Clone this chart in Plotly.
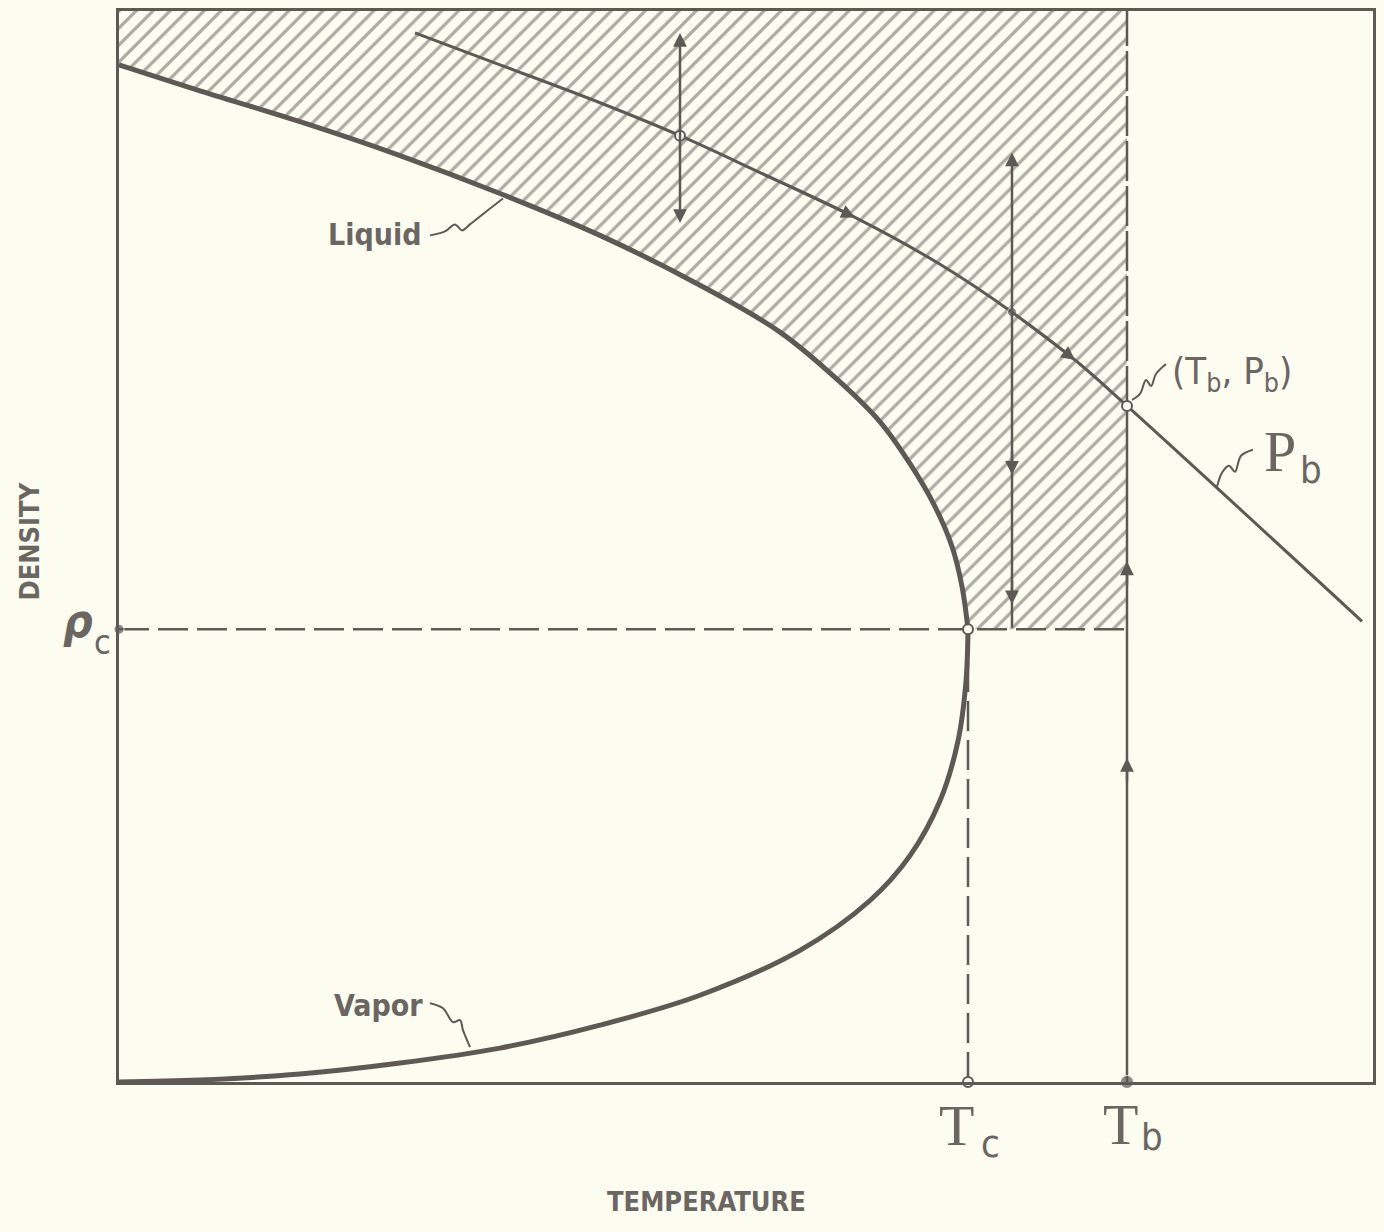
import plotly.graph_objects as go

# coexistence curve (temperature, density) in arbitrary diagram units
liquid_T = [0, 81, 181, 281, 381, 481, 581, 661, 721, 761, 791, 816, 833, 843, 849]
liquid_rho = [1020, 994, 963, 929, 891, 849, 799, 752, 702, 662, 620, 577, 537, 497, 454]
vapor_T = [849, 847, 839, 821, 791, 751, 681, 581, 481, 381, 281, 181, 81, 0]
vapor_rho = [454, 402, 342, 282, 227, 182, 132, 87, 57, 34, 19, 8, 2, 0]

# isobar P_b
isobar_T = [296, 381, 481, 561, 641, 736, 821, 893, 956, 1008, 1243]
isobar_rho = [1052, 1020, 982, 949, 912, 867, 820, 772, 724, 678, 462]

T_c, rho_c = 849, 454
T_b = 1008
T_max, rho_max = 1254, 1074

# vertical double arrows (bottom, top)
arrow1_rho = [860, 1052]
arrow2_rho = [454, 932]
arrow2_down = [609, 479]
Tb_up = [522, 325]

# leader squiggles
lead_liquid = ([311, 326, 336, 343, 351, 366, 384], [849, 853, 860, 854, 860, 872, 886])
lead_vapor = ([311, 324, 334, 341, 344, 351], [79, 74, 60, 62, 52, 35])
lead_tbpb = ([1013, 1021, 1027, 1032, 1037, 1047], [684, 690, 704, 698, 710, 720])
lead_pb = ([1098, 1103, 1110, 1116, 1122, 1134], [597, 611, 618, 612, 628, 634])

INK = "#5e5955"
TXT = "#6b6661"
BG = "#fcfcf1"
SANS = "Liberation Sans Narrow, DejaVu Sans Condensed, sans-serif"
SERIF = "Liberation Serif, DejaVu Serif, serif"

fig = go.Figure()

# hatched region above the liquid branch, left of T_b
hatch_T = liquid_T + [T_b, T_b, 0]
hatch_rho = liquid_rho + [rho_c, rho_max, rho_max]
fig.add_trace(go.Scatter(x=hatch_T, y=hatch_rho, mode="lines", fill="toself",
                         fillcolor="rgba(0,0,0,0)", line=dict(width=0),
                         fillpattern=dict(shape="/", size=12, solidity=0.27,
                                          fgcolor="#5e5955", bgcolor="rgba(0,0,0,0)")))

def line(x, y, width=2.5, dash="solid", shape="linear"):
    fig.add_trace(go.Scatter(x=x, y=y, mode="lines", cliponaxis=False,
                             line=dict(color=INK, width=width, dash=dash, shape=shape)))

# dashed guides
line([0, T_b], [rho_c, rho_c], dash="30px,9px")
line([T_c, T_c], [0, rho_c], dash="30px,9px")
line([T_b, T_b], [isobar_rho[9], rho_max], dash="40px,5px")
line([T_b, T_b], [0, isobar_rho[9]])

# coexistence curve
line(liquid_T, liquid_rho, width=5, shape="spline")
line(vapor_T, vapor_rho, width=5, shape="spline")

# isobar
line(isobar_T, isobar_rho, width=3, shape="spline")

# leaders
for lx, ly in [lead_liquid, lead_vapor, lead_tbpb, lead_pb]:
    line(lx, ly, width=2, shape="spline")

# points
fig.add_trace(go.Scatter(x=[0, T_b, isobar_T[7]], y=[rho_c, 0, isobar_rho[7]], mode="markers",
                         cliponaxis=False, marker=dict(color=INK, size=[10, 13, 9])))
fig.add_trace(go.Scatter(x=[T_c, T_c, T_b, isobar_T[3]], y=[rho_c, 0, isobar_rho[9], isobar_rho[3]],
                         mode="markers", cliponaxis=False,
                         marker=dict(color=BG, size=10, line=dict(color=INK, width=2))))

# arrows
def arrow(x, y, ax, ay, side="end"):
    fig.add_annotation(x=x, y=y, ax=ax, ay=ay, xref="x", yref="y", axref="x", ayref="y",
                       text="", showarrow=True, arrowhead=2, arrowsize=1.1, arrowwidth=2.5,
                       arrowcolor=INK, arrowside=side)

arrow(isobar_T[3], arrow1_rho[1], isobar_T[3], arrow1_rho[0], side="end+start")
arrow(isobar_T[7], arrow2_rho[1], isobar_T[7], arrow2_rho[0])
for r in arrow2_down:
    arrow(isobar_T[7], r, isobar_T[7], r + 25)
for r in Tb_up:
    arrow(T_b, r, T_b, r - 25)
arrow(isobar_T[5], isobar_rho[5], isobar_T[4], isobar_rho[4])
arrow(isobar_T[8], isobar_rho[8], isobar_T[7], isobar_rho[7])

# labels (placed in paper units so they may sit outside the axes)
def label(x, y, text, size, font=SANS, angle=0):
    fig.add_annotation(x=x / T_max, y=y / rho_max, xref="paper", yref="paper", text=text,
                       xanchor="center", yanchor="middle", showarrow=False, textangle=angle,
                       font=dict(family=font, size=size, color=TXT))

label(256, 850, "<b>Liquid</b>", 30)
label(259, 77, "<b>Vapor</b>", 30)
label(587, -120, "<b>TEMPERATURE</b>", 27)
label(-89, 542, "<b>DENSITY</b>", 27, angle=-90)
label(837, -44, "T", 58, font=SERIF)
label(871, -62, "c", 38)
label(1001, -43, "T", 58, font=SERIF)
label(1033, -55, "b", 38)
label(1161, 632, "P", 58, font=SERIF)
label(1192, 614, "b", 38)
label(-41, 462, "<b><i>ρ</i></b>", 46)
label(-17, 441, "c", 34)
label(1113, 710, "(T<sub>b</sub>, P<sub>b</sub>)", 38)

fig.update_xaxes(range=[0, T_max], showgrid=False, zeroline=False, showticklabels=False,
                 showline=True, mirror=True, linecolor=INK, linewidth=3)
fig.update_yaxes(range=[0, rho_max], showgrid=False, zeroline=False, showticklabels=False,
                 showline=True, mirror=True, linecolor=INK, linewidth=3)
fig.update_layout(width=1384, height=1232, showlegend=False,
                  margin=dict(l=119, r=11, t=8, b=150),
                  paper_bgcolor=BG, plot_bgcolor=BG)

fig.write_html("out.html", config={"displayModeBar": False},
               post_script="document.body.style.margin='0';document.body.style.background='%s';" % BG)
